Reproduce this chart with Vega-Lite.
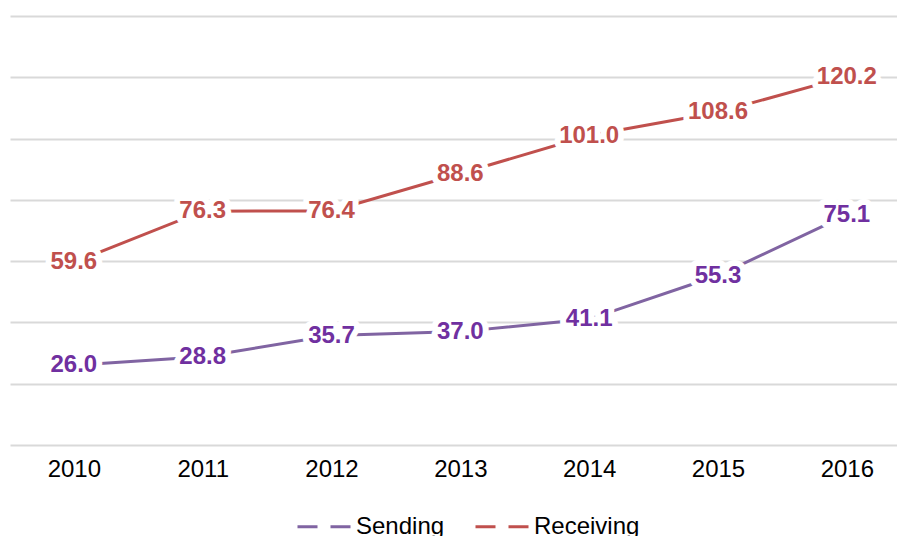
{
  "$schema": "https://vega.github.io/schema/vega-lite/v6.json",
  "autosize": "none",
  "width": 887,
  "height": 429,
  "padding": {"left": 10, "top": 16, "right": 0, "bottom": 91},
  "background": "white",
  "config": {
    "view": {"stroke": null},
    "font": "Liberation Sans"
  },
  "data": {
    "values": [
      {"year": "2010", "series": "Sending", "value": 26.0},
      {"year": "2011", "series": "Sending", "value": 28.8},
      {"year": "2012", "series": "Sending", "value": 35.7},
      {"year": "2013", "series": "Sending", "value": 37.0},
      {"year": "2014", "series": "Sending", "value": 41.1},
      {"year": "2015", "series": "Sending", "value": 55.3},
      {"year": "2016", "series": "Sending", "value": 75.1},
      {"year": "2010", "series": "Receiving", "value": 59.6},
      {"year": "2011", "series": "Receiving", "value": 76.3},
      {"year": "2012", "series": "Receiving", "value": 76.4},
      {"year": "2013", "series": "Receiving", "value": 88.6},
      {"year": "2014", "series": "Receiving", "value": 101.0},
      {"year": "2015", "series": "Receiving", "value": 108.6},
      {"year": "2016", "series": "Receiving", "value": 120.2}
    ]
  },
  "encoding": {
    "x": {
      "field": "year",
      "type": "ordinal",
      "scale": {"type": "point", "padding": 0.4425, "align": 0.56},
      "axis": {
        "title": null,
        "labelAngle": 0,
        "ticks": false,
        "domain": false,
        "labelFontSize": 24,
        "labelColor": "#000000",
        "labelPadding": 12,
        "grid": false
      }
    },
    "y": {
      "field": "value",
      "type": "quantitative",
      "scale": {"domain": [0, 140], "nice": false},
      "axis": {
        "title": null,
        "labels": false,
        "ticks": false,
        "domain": false,
        "values": [0, 20, 40, 60, 80, 100, 120, 140],
        "gridColor": "#d9d9d9",
        "gridWidth": 2
      }
    }
  },
  "layer": [
    {
      "mark": {"type": "line", "strokeWidth": 3},
      "encoding": {
        "color": {
          "field": "series",
          "type": "nominal",
          "scale": {"domain": ["Sending", "Receiving"], "range": ["#8064A2", "#C0504D"]},
          "legend": {
            "title": null,
            "orient": "none",
            "legendX": 286,
            "legendY": 482,
            "direction": "horizontal",
            "symbolType": "stroke",
            "symbolSize": 2916,
            "symbolStrokeWidth": 3,
            "symbolDash": [20, 13],
            "labelFontSize": 24,
            "labelColor": "#000000",
            "labelOffset": 3,
            "columnPadding": 24
          }
        }
      }
    },
    {
      "mark": {"type": "text", "fontSize": 24, "fontWeight": "bold", "stroke": "white", "strokeWidth": 12, "strokeJoin": "round", "fill": "white"},
      "encoding": {
        "text": {"field": "value", "type": "quantitative", "format": ".1f"}
      }
    },
    {
      "mark": {"type": "text", "fontSize": 24, "fontWeight": "bold"},
      "encoding": {
        "text": {"field": "value", "type": "quantitative", "format": ".1f"},
        "color": {
          "condition": {"test": "datum.series === 'Sending'", "value": "#7030A0"},
          "value": "#C0504D"
        }
      }
    }
  ]
}
